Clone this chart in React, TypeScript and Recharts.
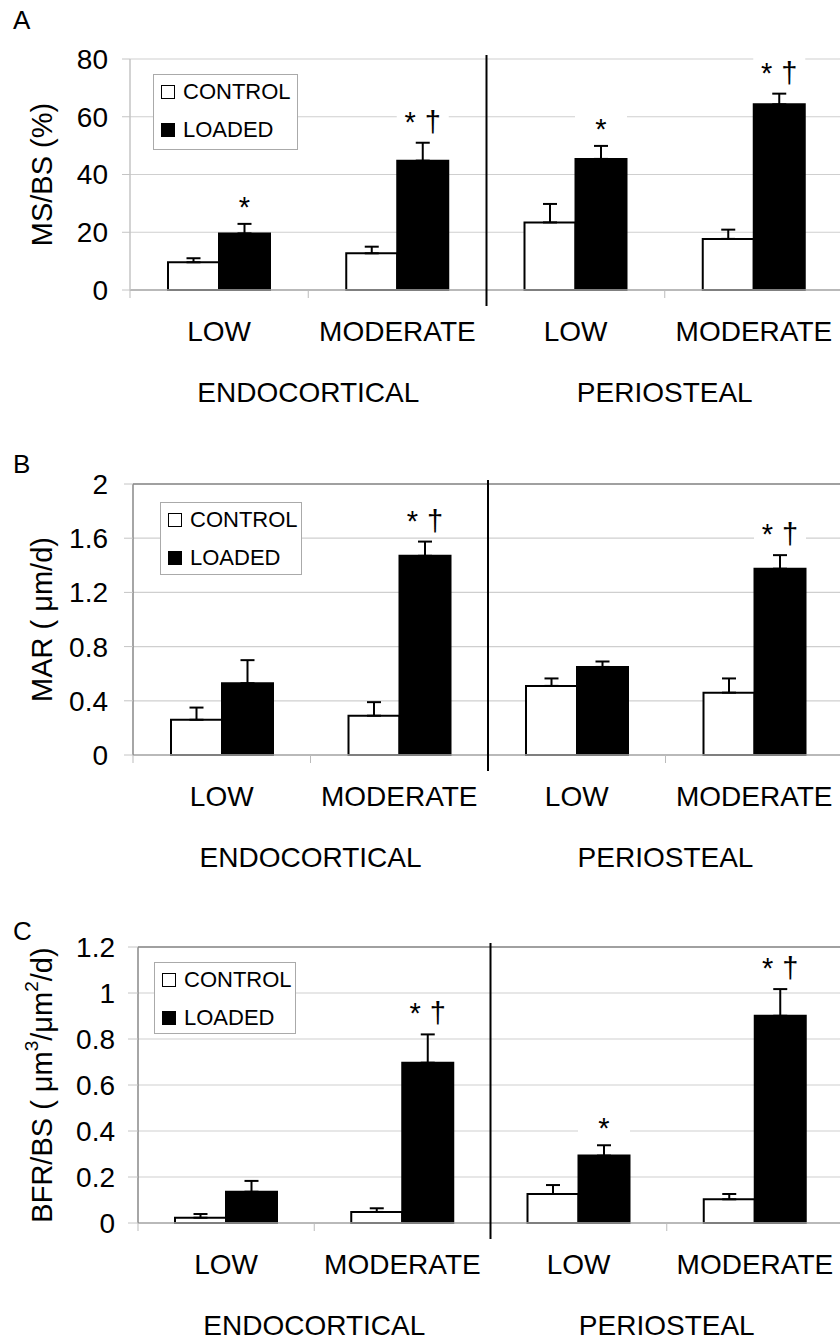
import {
  BarChart,
  Bar,
  XAxis,
  YAxis,
  CartesianGrid,
  ErrorBar,
  LabelList,
  Legend,
  ReferenceLine,
  Label,
} from 'recharts'

const levels = ['LOW', 'MODERATE', 'LOW', 'MODERATE']
const surfaces = ['ENDOCORTICAL', 'PERIOSTEAL']
const seriesNames = ['CONTROL', 'LOADED']
const seriesFills = ['#fff', '#000']

// A: MS/BS (%)
const msbsControl = [9.6, 12.7, 23.4, 17.7]
const msbsControlErr = [1.4, 2.3, 6.4, 3.2]
const msbsLoaded = [19.6, 44.8, 45.4, 64.3]
const msbsLoadedErr = [3.3, 6.2, 4.5, 3.7]
const msbsSig = ['*', '* †', '*', '* †']
const msbsTicks = [0, 20, 40, 60, 80]

// B: MAR (um/d)
const marControl = [0.26, 0.29, 0.51, 0.46]
const marControlErr = [0.09, 0.1, 0.055, 0.105]
const marLoaded = [0.53, 1.47, 0.65, 1.375]
const marLoadedErr = [0.17, 0.105, 0.04, 0.1]
const marSig = ['', '* †', '', '* †']
const marTicks = [0, 0.4, 0.8, 1.2, 1.6, 2]

// C: BFR/BS
const bfrControl = [0.023, 0.048, 0.126, 0.103]
const bfrControlErr = [0.016, 0.016, 0.039, 0.023]
const bfrLoaded = [0.136, 0.697, 0.293, 0.901]
const bfrLoadedErr = [0.047, 0.123, 0.045, 0.116]
const bfrSig = ['', '* †', '*', '* †']
const bfrTicks = [0, 0.2, 0.4, 0.6, 0.8, 1, 1.2]

const FONT = '"Liberation Sans", Arial, sans-serif'
const TOP_PAD = 40
const CHART_W = 850
const RIGHT_PAD = 7

type Row = {
  level: string
  control: number
  controlErr: number[]
  loaded: number
  loadedErr: number[]
  sig: string
}

const makeRows = (
  control: number[],
  controlErr: number[],
  loaded: number[],
  loadedErr: number[],
  sig: string[],
): Row[] =>
  levels.map((level, i) => ({
    level,
    control: control[i],
    controlErr: [0, controlErr[i]],
    loaded: loaded[i],
    loadedErr: [0, loadedErr[i]],
    sig: sig[i],
  }))

const sigLabel = (rows: Row[]) => (props: any) => {
  const { value, index } = props
  if (!value) return null
  const vb = props.viewBox ?? props
  const x = Number(vb.x)
  const y = Number(vb.y)
  const w = Number(vb.width)
  const h = Math.abs(Number(vb.height))
  const row = rows[index]
  const perUnit = h / row.loaded
  const errTop = y - row.loadedErr[1] * perUnit
  const cx = x + w / 2
  const dagger = String(value).includes('†')
  const base = errTop - (dagger ? 11 : 7)
  return (
    <g>
      <rect x={cx - 26} y={base - 27} width={52} height={31} fill="#fff" />
      <text x={cx} y={base} textAnchor="middle" fontSize={29} wordSpacing={1} fill="#000">
        {value}
      </text>
    </g>
  )
}

function LegendBox({ width, height }: { width: number; height: number }) {
  return (
    <div
      style={{
        width,
        height,
        boxSizing: 'border-box',
        border: '1px solid #aaa',
        background: '#fff',
        position: 'relative',
        fontFamily: FONT,
        fontSize: 22,
        color: '#000',
      }}
    >
      {seriesNames.map((name, i) => (
        <div
          key={name}
          style={{
            position: 'absolute',
            left: 7,
            top: (i === 0 ? 17 : 55) - 14,
            height: 28,
            display: 'flex',
            alignItems: 'center',
            whiteSpace: 'nowrap',
          }}
        >
          <span
            style={{
              display: 'inline-block',
              width: 14,
              height: 14,
              boxSizing: 'border-box',
              border: '1.5px solid #000',
              background: seriesFills[i],
              marginRight: 8,
            }}
          />
          {name}
        </div>
      ))}
    </div>
  )
}

interface PanelProps {
  rows: Row[]
  yTicks: number[]
  plotTop: number
  plotHeight: number
  plotLeft: number
  yLabel: React.ReactNode
  framed: boolean
  tickSize: number
  tickMargin: number
  legend: { left: number; top: number; width: number; height: number }
}

function Panel({
  rows,
  yTicks,
  plotTop,
  plotHeight,
  plotLeft,
  yLabel,
  framed,
  tickSize,
  tickMargin,
  legend,
}: PanelProps) {
  const yMax = yTicks[yTicks.length - 1]
  const axisColor = framed ? '#888' : '#c4c4c4'
  const halfBand = (CHART_W - RIGHT_PAD - plotLeft) / levels.length / 2

  // category boundary ticks, and the long divider between the two surfaces
  const boundTick = (p: any) => {
    const xl = p.x - halfBand
    if (p.index === 2) {
      return (
        <line x1={xl} x2={xl} y1={p.y - plotHeight - 4} y2={p.y + 16} stroke="#000" strokeWidth={2} />
      )
    }
    return <line x1={xl} x2={xl} y1={p.y} y2={p.y + 8} stroke="#bbb" strokeWidth={1} />
  }

  // surface names centred under each pair of categories
  const groupTick = (p: any) => {
    if (p.index % 2 !== 0) return <g />
    return (
      <text x={p.x + halfBand} y={p.y} dy="0.71em" textAnchor="middle" fontSize={28} fill="#000">
        {surfaces[p.index / 2]}
      </text>
    )
  }

  return (
    <div style={{ position: 'absolute', left: 0, top: plotTop - TOP_PAD }}>
      <BarChart
        width={CHART_W}
        height={TOP_PAD + plotHeight + 8 + 50 + 60}
        data={rows}
        margin={{ top: TOP_PAD, right: RIGHT_PAD, left: 0, bottom: 0 }}
        barGap={0}
      >
        <CartesianGrid xAxisId="cat" vertical={false} stroke="#cfcfcf" strokeWidth={1.2} />
        <XAxis
          xAxisId="bound"
          dataKey="level"
          interval={0}
          height={8}
          tickSize={0}
          tickMargin={0}
          axisLine={{ stroke: '#aaa', strokeWidth: 1.5 }}
          tickLine={false}
          tick={boundTick}
        />
        <XAxis
          xAxisId="cat"
          dataKey="level"
          interval={0}
          height={50}
          axisLine={false}
          tickLine={false}
          tickSize={0}
          tickMargin={23}
          tick={{ fill: '#000', fontSize: 28 }}
        />
        <XAxis
          xAxisId="grp"
          dataKey="level"
          interval={0}
          height={60}
          axisLine={false}
          tickLine={false}
          tickSize={0}
          tickMargin={34}
          tick={groupTick}
        />
        <YAxis
          domain={[0, yMax]}
          ticks={yTicks}
          interval={0}
          width={plotLeft}
          tickSize={tickSize}
          tickMargin={tickMargin}
          axisLine={{ stroke: axisColor, strokeWidth: 1.5 }}
          tickLine={{ stroke: '#c4c4c4' }}
          tick={{ fill: '#000', fontSize: 28 }}
        >
          <Label
            content={(p: any) => {
              const vb = p.viewBox
              const cx = vb.x + 42
              const cy = vb.y + vb.height / 2
              return (
                <text
                  x={cx}
                  y={cy}
                  transform={`rotate(-90, ${cx}, ${cy})`}
                  textAnchor="middle"
                  dominantBaseline="central"
                  fontSize={29}
                  fill="#000"
                >
                  {yLabel}
                </text>
              )
            }}
          />
        </YAxis>
        {framed && <ReferenceLine xAxisId="cat" y={yMax} stroke="#888" strokeWidth={1.5} />}
        <Legend
          layout="vertical"
          align="center"
          verticalAlign="middle"
          wrapperStyle={{
            position: 'absolute',
            left: legend.left,
            top: TOP_PAD + legend.top,
            width: legend.width,
            height: legend.height,
          }}
          content={() => <LegendBox width={legend.width} height={legend.height} />}
        />
        <Bar
          xAxisId="cat"
          dataKey="control"
          name={seriesNames[0]}
          fill={seriesFills[0]}
          stroke="#000"
          strokeWidth={2}
          barSize={51}
          isAnimationActive={false}
        >
          <ErrorBar dataKey="controlErr" direction="y" width={7} stroke="#000" strokeWidth={2} />
        </Bar>
        <Bar
          xAxisId="cat"
          dataKey="loaded"
          name={seriesNames[1]}
          fill={seriesFills[1]}
          stroke="#000"
          strokeWidth={2}
          barSize={51}
          isAnimationActive={false}
        >
          <ErrorBar dataKey="loadedErr" direction="y" width={7} stroke="#000" strokeWidth={2} />
          <LabelList dataKey="sig" content={sigLabel(rows)} />
        </Bar>
      </BarChart>
    </div>
  )
}

const msbsRows = makeRows(msbsControl, msbsControlErr, msbsLoaded, msbsLoadedErr, msbsSig)
const marRows = makeRows(marControl, marControlErr, marLoaded, marLoadedErr, marSig)
const bfrRows = makeRows(bfrControl, bfrControlErr, bfrLoaded, bfrLoadedErr, bfrSig)

const letterStyle: React.CSSProperties = {
  position: 'absolute',
  left: 13,
  fontSize: 26,
  lineHeight: 1,
  fontFamily: FONT,
}

export default function App() {
  return (
    <div
      style={{
        position: 'absolute',
        left: 0,
        top: 0,
        width: 840,
        height: 1341,
        overflow: 'hidden',
        background: '#fff',
        fontFamily: FONT,
      }}
    >
      <div style={{ ...letterStyle, top: 7 }}>A</div>
      <div style={{ ...letterStyle, top: 451 }}>B</div>
      <div style={{ ...letterStyle, top: 918 }}>C</div>

      <Panel
        rows={msbsRows}
        yTicks={msbsTicks}
        plotTop={59}
        plotHeight={231}
        plotLeft={130}
        yLabel="MS/BS (%)"
        framed={false}
        tickSize={8}
        tickMargin={14}
        legend={{ left: 153, top: 15, width: 145, height: 76 }}
      />
      <Panel
        rows={marRows}
        yTicks={marTicks}
        plotTop={484}
        plotHeight={271}
        plotLeft={133}
        yLabel="MAR ( μm/d)"
        framed
        tickSize={9}
        tickMargin={16}
        legend={{ left: 160, top: 18, width: 142, height: 73 }}
      />
      <Panel
        rows={bfrRows}
        yTicks={bfrTicks}
        plotTop={947}
        plotHeight={276}
        plotLeft={138}
        yLabel={
          <>
            <tspan>BFR/BS ( μm</tspan>
            <tspan dy={-11} fontSize={19}>3</tspan>
            <tspan dy={11}>/μm</tspan>
            <tspan dy={-11} fontSize={19}>2</tspan>
            <tspan dy={11}>/d)</tspan>
          </>
        }
        framed
        tickSize={10}
        tickMargin={13}
        legend={{ left: 154, top: 15, width: 142, height: 72 }}
      />
    </div>
  )
}
